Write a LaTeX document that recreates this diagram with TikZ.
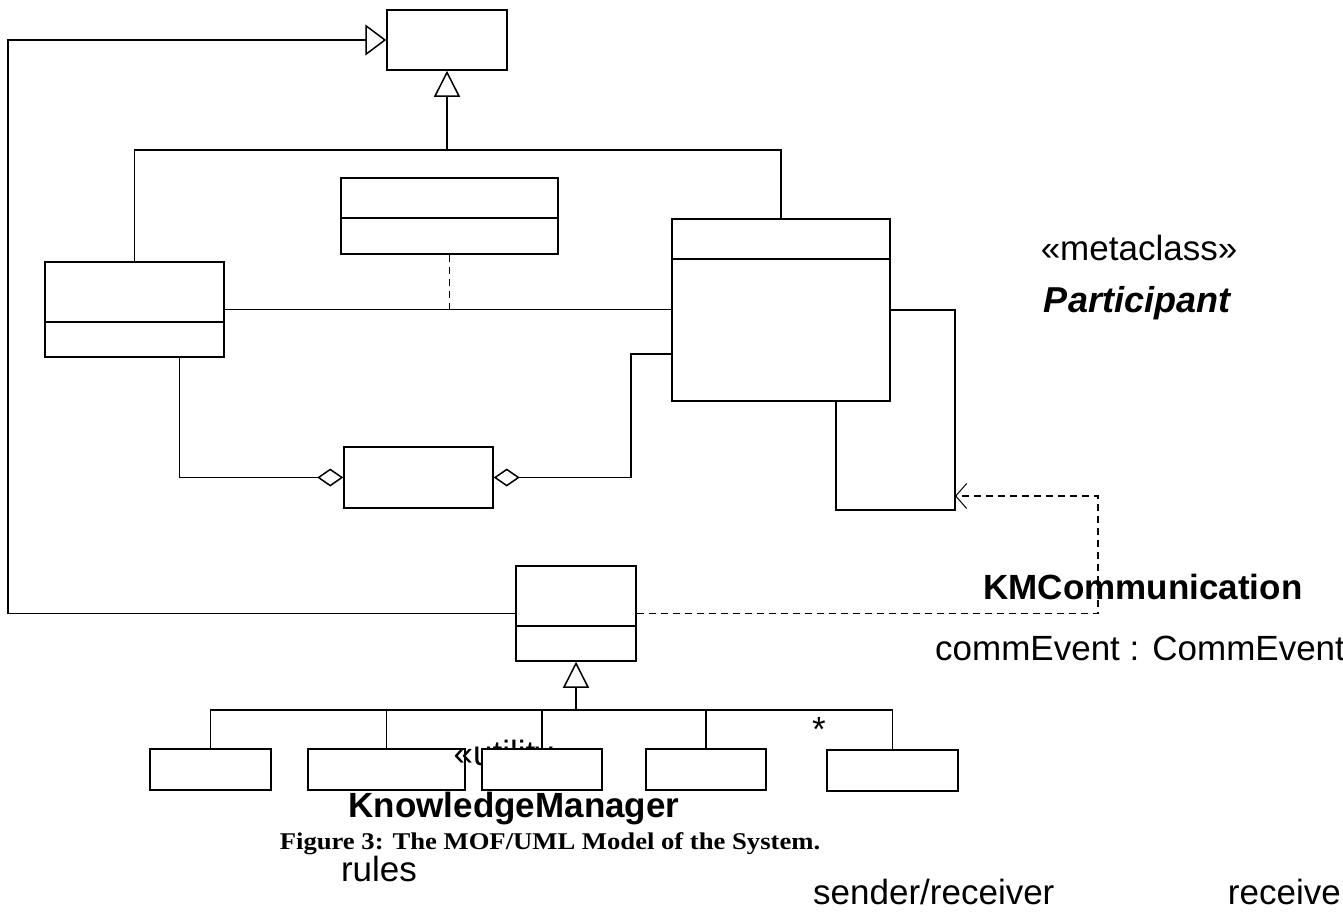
\documentclass[tikz,border=0pt]{standalone}
\usepackage{fontspec}
\usepackage{graphicx}
\setmainfont{Liberation Sans}
\newfontfamily\capfont{Liberation Serif}
\usetikzlibrary{arrows.meta,calc}

\tikzset{
  umlbox/.style={draw, line width=1.5pt, fill=white, inner sep=0pt},
  conn/.style={line width=1.1pt},
  gen/.style={conn, -{Triangle[open, length=26pt, width=26pt, line width=1.5pt]}},
  genleft/.style={conn, -{Triangle[open, length=21pt, width=31pt, line width=1.5pt]}},
  agg/.style={conn, {Diamond[open, length=26pt, width=18pt, line width=1.5pt]}-},
  dep/.style={conn, dash pattern=on 7pt off 5pt, -{Straight Barb[length=11pt, width=25pt, line width=1pt]}},
  dashlink/.style={conn, dash pattern=on 7pt off 5pt},
  lbl/.style={inner sep=0pt, anchor=base, font=\fontsize{35}{40}\selectfont},
}

\begin{document}
\begin{tikzpicture}[x=1pt, y=-1pt]
\useasboundingbox (0,0) rectangle (1343,913);

% ---- classes ----
\node[umlbox, minimum width=120pt, minimum height=60pt] (top) at (447,40) {};
\node[umlbox, minimum width=179pt, minimum height=95pt] (L) at (134.5,309.5) {};
\draw[line width=1.5pt] (L.west |- 0,322) -- (L.east |- 0,322);
\node[umlbox, minimum width=217pt, minimum height=76pt] (M) at (449.5,216) {};
\draw[line width=1.5pt] (M.west |- 0,218) -- (M.east |- 0,218);
\node[umlbox, minimum width=218pt, minimum height=182pt] (R) at (781,310) {};
\draw[line width=1.5pt] (R.west |- 0,259) -- (R.east |- 0,259);
\node[umlbox, minimum width=149pt, minimum height=61pt] (A) at (418.5,477.5) {};
\node[umlbox, minimum width=120pt, minimum height=95pt] (KM) at (576,613.5) {};
\draw[line width=1.5pt] (KM.west |- 0,626) -- (KM.east |- 0,626);

% ---- lower row ----
\node[umlbox, minimum width=121pt, minimum height=41pt] (B1) at (210.5,769.5) {};
\node[umlbox, minimum width=157pt, minimum height=41pt] (B2) at (386.5,769.5) {};
\node[lbl] (util) at (513,765) {«utility»};
\node[umlbox, minimum width=120pt, minimum height=41pt] (B3) at (542,769.5) {};
\node[umlbox, minimum width=120pt, minimum height=41pt] (B4) at (706,769.5) {};
\node[umlbox, minimum width=131pt, minimum height=41pt] (B5) at (892.5,770.5) {};

% ---- helper points ----
\coordinate (edgeL) at (8,0);
\coordinate (bus) at (0,150);
\coordinate (aL) at ($(L.south)!0.5!(L.south east)$);
\coordinate (rj) at (631,354);
\coordinate (sa) at (955,510);
\coordinate (sb) at (836,402);
\coordinate (dk) at (1098,496);
\coordinate (kbus) at (0,710);

% ---- generalizations ----
\draw[genleft] (KM.west) -| (edgeL |- top.west) -- (top.west);
\draw[conn] (L.north) |- (R.north |- bus) -- (R.north);
\draw[gen] (top.south |- bus) -- (top.south);
\draw[conn] (B1.north) |- (B5.north |- kbus) -- (B5.north);
\foreach \b in {B2,B3,B4} \draw[conn] (\b.north) -- (\b.north |- kbus);
\draw[gen] (KM.south |- kbus) -- (KM.south);

% ---- associations ----
\draw[conn] (L.east) -- (L.east -| R.west);
\draw[dashlink] (M.south) -- (M.south |- L.east);
\draw[agg] (A.west) -| (aL);
\draw[agg] (A.east) -| (rj) -- (rj -| R.west);
\draw[conn] (R.east) -| (sa) -| (sb);
\draw[dep] (KM.east) -| (dk) -- (dk -| sa);

% ---- labels ----
\node[lbl] (meta) at (1139,260) {«metaclass»};
\node[lbl, font=\fontsize{36}{40}\selectfont\bfseries\itshape] (part) at (1137,312) {Participant};
\node[lbl, font=\fontsize{35}{40}\selectfont\bfseries] (kmc) at (1143,599) {KMCommunication};
\node[lbl, anchor=base west] (ce) at (935,660) {commEvent : CommEvent};
\node[lbl] (star) at (819,741) {*};
\node[lbl, font=\fontsize{35}{40}\selectfont\bfseries] (kmname) at (514,817) {KnowledgeManager};
\node[inner sep=0pt, anchor=base, font=\capfont\fontsize{24}{28}\selectfont\bfseries] (cap) at (550,849) {\scalebox{1.11}[1]{Figure 3: The MOF/UML Model of the System.}};
\node[lbl] (rules) at (379,881) {rules};
\node[lbl, anchor=base west] (sr) at (813,904) {sender/receiver};
\node[lbl, anchor=base east] (rc) at (1341,904) {receive};
\end{tikzpicture}
\end{document}
